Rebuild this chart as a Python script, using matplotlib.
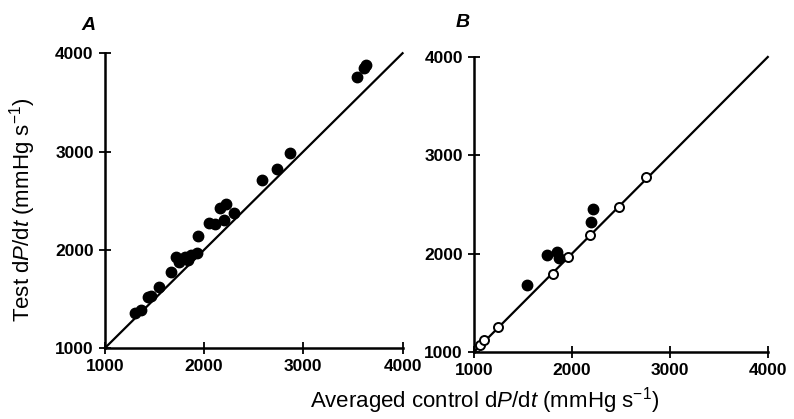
import matplotlib.pyplot as plt

plt.rcParams['font.family'] = ['Liberation Sans', 'DejaVu Sans']
plt.rcParams['mathtext.fontset'] = 'custom'
plt.rcParams['mathtext.rm'] = 'Liberation Sans'
plt.rcParams['mathtext.it'] = 'Liberation Sans:italic'

# Panel A: averaged control vs test dP/dt (all filled)
a_control = [1302, 1369, 1436, 1469, 1546, 1670, 1721, 1748, 1805, 1838, 1872,
             1929, 1939, 2049, 2106, 2156, 2217, 2197, 2300, 2585, 2733, 2867,
             3537, 3614, 3631]
a_test = [1356, 1390, 1525, 1532, 1620, 1770, 1932, 1881, 1932, 1898, 1949,
          1973, 2136, 2278, 2264, 2424, 2468, 2305, 2380, 2712, 2820, 2990,
          3756, 3848, 3878]

# Panel B: filled and open symbols
b_filled_control = [1544, 1747, 1849, 1870, 2199, 2216]
b_filled_test = [1682, 1989, 2012, 1955, 2323, 2459]
b_open_control = [1061, 1102, 1248, 1802, 1961, 2182, 2478, 2760]
b_open_test = [1068, 1119, 1256, 1791, 1965, 2193, 2473, 2783]

ticks = [1000, 2000, 3000, 4000]
tick_labels = ['1000', '2000', '3000', '4000']

fig = plt.figure(figsize=(7.94, 4.19), dpi=100)
ax_a = fig.add_axes([0.132, 0.169, 0.375, 0.704])
ax_b = fig.add_axes([0.597, 0.160, 0.370, 0.704])


def style_axis(ax):
    ax.set_xlim(1000, 4000)
    ax.set_ylim(1000, 4000)
    ax.set_xticks(ticks)
    ax.set_yticks(ticks)
    ax.set_xticklabels(tick_labels)
    ax.set_yticklabels(tick_labels)
    for side in ['top', 'right']:
        ax.spines[side].set_visible(False)
    for side in ['left', 'bottom']:
        ax.spines[side].set_linewidth(1.8)
    ax.tick_params(direction='inout', length=8, width=1.3, labelsize=12.5,
                   pad=4)
    for lab in ax.get_xticklabels() + ax.get_yticklabels():
        lab.set_fontweight('bold')
    # identity line
    ax.plot([1000, 4000], [1000, 4000], color='black', lw=1.6, zorder=2,
            clip_on=False)


style_axis(ax_a)
ax_a.plot(a_control, a_test, 'o', color='black', ms=7.5, zorder=3,
          clip_on=False)

style_axis(ax_b)
ax_b.plot(b_open_control, b_open_test, 'o', mfc='white', mec='black',
          mew=1.4, ms=6.5, zorder=3, clip_on=False)
ax_b.plot(b_filled_control, b_filled_test, 'o', color='black', ms=7.5,
          zorder=4, clip_on=False)

# Panel letters
fig.text(0.111, 0.94, 'A', fontsize=14, style='italic', fontweight='bold',
         ha='center', va='center')
fig.text(0.583, 0.947, 'B', fontsize=14, style='italic', fontweight='bold',
         ha='center', va='center')

# Axis labels
fig.text(0.028, 0.50, 'Test d$\\it{P}$/d$\\it{t}$ (mmHg s$^{-1}$)',
         rotation=90, fontsize=16, ha='center', va='center')
fig.text(0.611, 0.045, 'Averaged control d$\\it{P}$/d$\\it{t}$ (mmHg s$^{-1}$)',
         fontsize=16, ha='center', va='center')

fig.savefig('out.png', dpi=100)
